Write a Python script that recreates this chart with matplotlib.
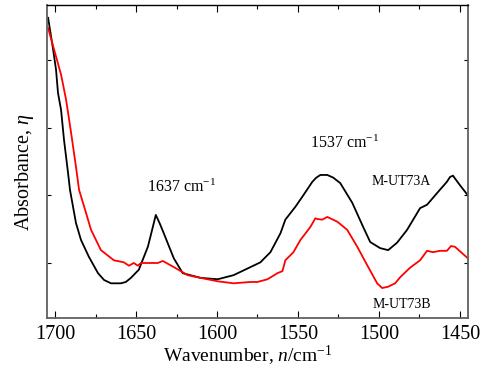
import matplotlib
matplotlib.use("Agg")
import matplotlib.pyplot as plt
from matplotlib.ticker import MultipleLocator, NullFormatter

plt.rcParams["font.family"] = ["Liberation Serif", "DejaVu Serif"]
plt.rcParams["mathtext.fontset"] = "custom"
plt.rcParams["mathtext.rm"] = "Liberation Serif"
plt.rcParams["mathtext.it"] = "Liberation Serif:italic"

# M-UT73A (black)
wn_a = [1704.3, 1701.2, 1699.4, 1698.2, 1696.3, 1694.5, 1692.0, 1690.8, 1687.1,
        1684.0, 1679.1, 1673.5, 1669.8, 1665.5, 1659.4, 1656.3, 1653.2, 1648.3,
        1642.7, 1640.9, 1637.8, 1635.3, 1632.9, 1626.7, 1621.2, 1610.1, 1599.6,
        1589.8, 1579.3, 1573.2, 1567.0, 1560.8, 1557.8, 1551.6, 1546.7, 1541.1,
        1538.7, 1536.2, 1531.9, 1528.2, 1523.9, 1516.5, 1509.7, 1505.4, 1499.3,
        1494.3, 1488.8, 1482.6, 1474.6, 1470.3, 1464.2, 1458.0, 1456.1, 1454.3,
        1450.0, 1445.1]
abs_a = [0.462, 0.415, 0.385, 0.351, 0.326, 0.282, 0.233, 0.208, 0.159,
         0.134, 0.109, 0.085, 0.075, 0.070, 0.070, 0.072, 0.078, 0.090,
         0.124, 0.141, 0.171, 0.158, 0.144, 0.107, 0.085, 0.078, 0.076,
         0.082, 0.094, 0.101, 0.116, 0.144, 0.164, 0.183, 0.200, 0.220,
         0.226, 0.230, 0.230, 0.226, 0.218, 0.189, 0.153, 0.131, 0.122,
         0.119, 0.130, 0.149, 0.181, 0.186, 0.203, 0.220, 0.227, 0.229,
         0.215, 0.200]

# M-UT73B (red)
wn_b = [1704.3, 1700.6, 1696.3, 1693.2, 1690.1, 1687.1, 1685.2, 1680.9, 1677.8,
        1671.7, 1663.7, 1657.5, 1654.4, 1651.4, 1648.9, 1647.0, 1636.6, 1633.5,
        1626.7, 1618.1, 1610.1, 1599.6, 1589.8, 1579.3, 1575.0, 1568.8, 1562.7,
        1559.6, 1557.8, 1552.8, 1548.5, 1542.4, 1539.3, 1538.1, 1535.0, 1531.9,
        1525.7, 1519.6, 1513.4, 1507.3, 1501.1, 1498.0, 1494.3, 1490.0, 1486.9,
        1480.8, 1474.6, 1470.3, 1466.6, 1462.3, 1458.0, 1455.5, 1453.1, 1445.1]
abs_b = [0.447, 0.415, 0.378, 0.341, 0.292, 0.242, 0.208, 0.174, 0.149,
         0.119, 0.104, 0.101, 0.096, 0.100, 0.096, 0.100, 0.100, 0.103,
         0.094, 0.082, 0.078, 0.073, 0.070, 0.072, 0.072, 0.076, 0.085,
         0.088, 0.104, 0.116, 0.134, 0.153, 0.166, 0.165, 0.164, 0.168,
         0.161, 0.149, 0.124, 0.097, 0.070, 0.063, 0.065, 0.070, 0.079,
         0.093, 0.104, 0.118, 0.116, 0.118, 0.118, 0.125, 0.124, 0.107]

fig = plt.figure(figsize=(4.9, 3.72), dpi=100)
ax = fig.add_axes([0.0959, 0.1452, 0.8592, 0.8414])

ax.plot(wn_a, abs_a, color="black", lw=1.3)
ax.plot(wn_b, abs_b, color="red", lw=1.3)

ax.set_xlim(1705, 1445)
ax.set_ylim(0.0188, 0.481)

ax.xaxis.set_major_locator(MultipleLocator(50))
ax.xaxis.set_minor_locator(MultipleLocator(25))
ax.yaxis.set_major_locator(MultipleLocator(0.1))
ax.yaxis.set_major_formatter(NullFormatter())
ax.tick_params(axis="x", which="major", direction="in", length=5, width=0.8,
               top=True, labelsize=14.5, pad=5)
ax.tick_params(axis="x", which="minor", direction="in", length=3, width=0.8, top=True)
ax.tick_params(axis="y", which="major", direction="in", length=3, width=0.8, right=True)
for side in ["left", "right", "bottom"]:
    ax.spines[side].set_color("#606060")
    ax.spines[side].set_linewidth(1.3)
ax.spines["top"].set_linewidth(1.0)

ax.text(1622, 0.211, "1637 cm$^{-1}$", fontsize=11.5, ha="center", va="center")
ax.text(1521, 0.277, "1537 cm$^{-1}$", fontsize=11.5, ha="center", va="center")
ax.text(1486.3, 0.221, "M-UT73A", fontsize=10, ha="center", va="center")
ax.text(1485.7, 0.0394, "M-UT73B", fontsize=10, ha="center", va="center")

fig.text(248 / 490, 1 - 356 / 372, "Wavenumber, $n$/cm$^{-1}$", fontsize=14,
         ha="center", va="center")
fig.text(25 / 490, 1 - 172 / 372, "Absorbance, $\\eta$", fontsize=14.5,
         ha="center", va="center", rotation=90)

fig.savefig("out.png", dpi=100)
